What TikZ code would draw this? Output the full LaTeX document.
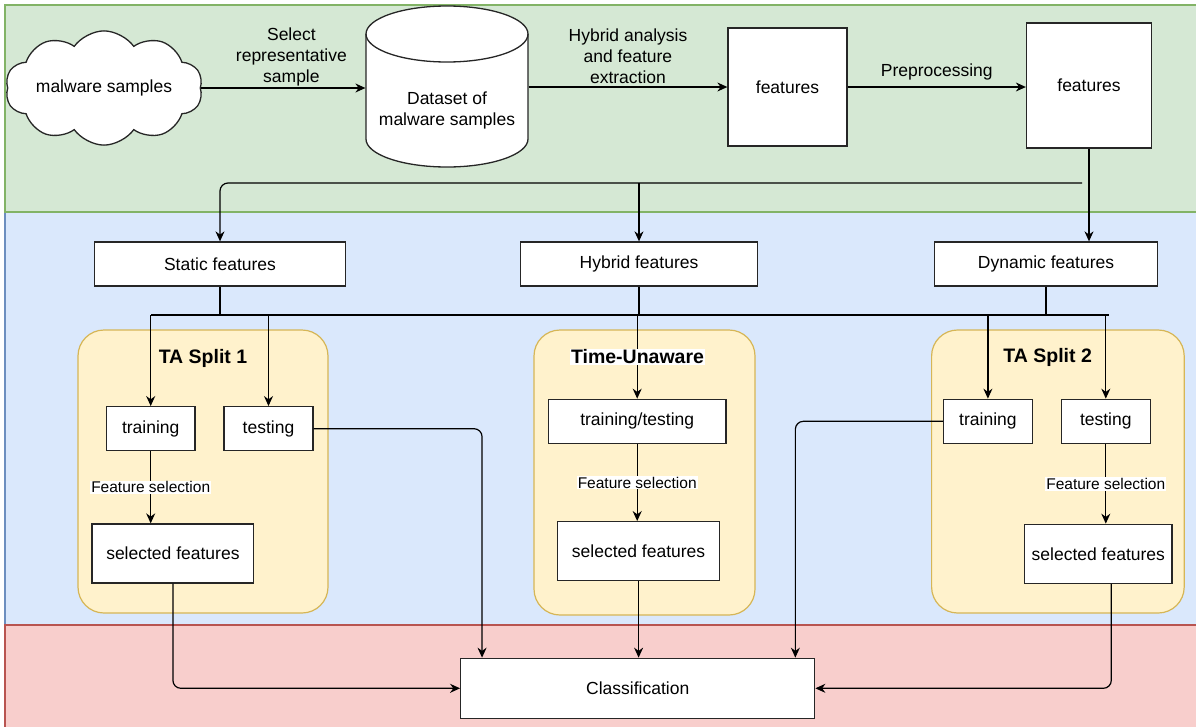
\documentclass[tikz,border=0pt]{standalone}
\usepackage{fontspec}
\setmainfont{Liberation Sans}
\usepackage{tikz}
\usetikzlibrary{arrows.meta,positioning,shapes.geometric,shapes.symbols}
\definecolor{greenfill}{HTML}{D5E8D4}
\definecolor{greenline}{HTML}{82B366}
\definecolor{bluefill}{HTML}{DAE8FC}
\definecolor{blueline}{HTML}{6C8EBF}
\definecolor{redfill}{HTML}{F8CECC}
\definecolor{redline}{HTML}{B85450}
\definecolor{splitfill}{HTML}{FFF2CC}
\definecolor{splitline}{HTML}{D6B656}
\tikzset{
  band/.style={line width=1.2pt, fill=#1fill, draw=#1line},
  outline/.style={draw=black!85, line width=1.3pt},
  procbox/.style={outline, fill=white, inner sep=0pt, align=center},
  splitbox/.style={draw=splitline, line width=1.2pt, fill=splitfill, rounded corners=26pt},
  splittitle/.style={font=\fontsize{19.5}{23}\selectfont\bfseries, inner sep=1pt},
  steplabel/.style={fill=white, inner sep=1pt, font=\fontsize{15.5}{18}\selectfont},
  flowlabel/.style={align=center, above=3pt}
}

\begin{document}
\begin{tikzpicture}[x=1pt, y=-1pt, >={Stealth[length=10pt,width=9pt]}, line width=1.2pt, font=\fontsize{17.5}{21}\selectfont]
  \useasboundingbox (0,0) rectangle (1196,726);
  \draw[band=blue] (5,212) rectangle (1205,625);
  \draw[band=green] (5,5) rectangle (1205,212);
  \draw[band=red] (5,625) rectangle (1205,735);

  \node[splitbox, minimum width=250pt, minimum height=283pt] (split1) at (203,471.5) {};
  \node[splitbox, minimum width=221pt, minimum height=285pt] (unaware) at (644.5,472.5) {};
  \node[splitbox, minimum width=252.6pt, minimum height=283pt] (split2) at (1057.9,471.5) {};

  \node[cloud, outline, fill=white, cloud puffs=10, cloud puff arc=110, aspect=2.2, minimum width=196pt, minimum height=98pt, inner sep=0pt] (samples) at (104,88) {malware samples};

  \draw[outline, fill=white] (366,34) -- (366,139) arc[start angle=180, end angle=0, x radius=81, y radius=28] -- (528,34) arc[start angle=0, end angle=-180, x radius=81, y radius=28] -- cycle;
  \draw[outline] (366,34) arc[start angle=180, end angle=0, x radius=81, y radius=28];
  \node[align=center, minimum width=162pt, inner sep=0pt] (dataset) at (447,110) {Dataset of\\malware samples};

  \node[procbox, minimum width=119pt, minimum height=118pt] (feat1) at (787.5,87) {features};
  \node[procbox, minimum width=125pt, minimum height=125pt] (feat2) at (1089,85.5) {features};

  \node[procbox, minimum width=251pt, minimum height=44pt] (stat) at (220,264) {Static features};
  \node[procbox, minimum width=236.5pt, minimum height=44pt] (hyb) at (639,264) {Hybrid features};
  \node[procbox, minimum width=222.7pt, minimum height=44pt] (dyn) at (1046,264) {Dynamic features};

  \node[procbox, minimum width=88.6pt, minimum height=44pt] (train1) at (150.7,428.7) {training};
  \node[procbox, minimum width=89pt, minimum height=44pt] (test1) at (268.5,428.7) {testing};
  \node[procbox, minimum width=161.7pt, minimum height=59pt] (sel1) at (172.9,553.5) {selected features};
  \node[procbox, minimum width=177.6pt, minimum height=44pt] (trte) at (637.2,421.3) {training/testing};
  \node[procbox, minimum width=162pt, minimum height=59pt] (sel2) at (638.6,551.2) {selected features};
  \node[procbox, minimum width=88.8pt, minimum height=44pt] (train2) at (987.9,421.3) {training};
  \node[procbox, minimum width=88.8pt, minimum height=44pt] (test2) at (1105.8,421.3) {testing};
  \node[procbox, minimum width=147.4pt, minimum height=59pt] (sel3) at (1098.3,553.8) {selected features};

  \node[procbox, minimum width=354pt, minimum height=60pt] (classify) at (637.7,688.3) {Classification};

  \draw[->] (samples.east) -- node[flowlabel, pos=0.55, yshift=-5pt] {Select\\representative\\sample} (samples.east -| dataset.west);
  \draw[->] (feat1.west -| dataset.east) -- node[flowlabel, yshift=-4pt] {Hybrid analysis\\and feature\\extraction} (feat1.west);
  \draw[->] (feat1.east) -- node[flowlabel] {Preprocessing} (feat1.east -| feat2.west);
  \draw[->] (feat2.south) -- (feat2.south |- dyn.north);

  \coordinate (fork) at (1082,183);
  \draw[->, rounded corners=8pt] (fork) -| (stat.north);
  \draw[->] (fork -| hyb.north) -- (hyb.north);

  \coordinate (busleft) at (151,315);
  \coordinate (busright) at (1109,315);
  \draw (busleft) -- (busright);
  \draw (stat.south) -- (stat.south |- busleft);
  \draw (hyb.south) -- (hyb.south |- busleft);
  \draw (dyn.south) -- (dyn.south |- busleft);
  \draw[->] (train1.north |- busleft) -- (train1.north);
  \draw[->] (test1.north |- busleft) -- (test1.north);
  \draw[->] (trte.north |- busleft) -- (trte.north);
  \draw[->] (train2.north |- busleft) -- (train2.north);
  \draw[->] (test2.north |- busleft) -- (test2.north);

  \draw[->] (train1.south) -- node[steplabel] {Feature selection} (train1.south |- sel1.north);
  \draw[->] (trte.south) -- node[steplabel] {Feature selection} (trte.south |- sel2.north);
  \draw[->] (test2.south) -- node[steplabel] {Feature selection} (test2.south |- sel3.north);

  \draw[->, rounded corners=8pt] (sel1.south) |- (classify.west);
  \draw[->, rounded corners=8pt] (test1.east) -| ([xshift=22pt]classify.north west);
  \draw[->] (sel2.south) -- (sel2.south |- classify.north);
  \draw[->, rounded corners=8pt] (train2.west) -| ([xshift=-20pt]classify.north east);
  \draw[->, rounded corners=8pt] ([xshift=13pt]sel3.south) |- (classify.east);

  \node[splittitle] (split1title) at (203,358) {TA Split 1};
  \node[splittitle, fill=white] (unawaretitle) at (637.5,357) {Time-Unaware};
  \node[splittitle] (split2title) at (1047.6,357) {TA Split 2};
\end{tikzpicture}
\end{document}
